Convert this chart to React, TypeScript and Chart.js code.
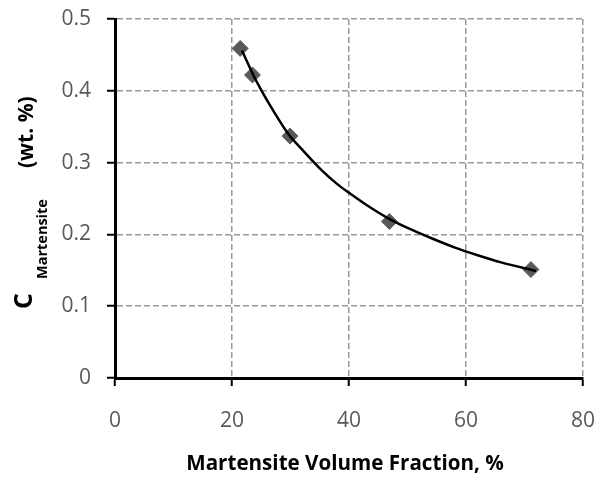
import React, { useEffect, useRef } from 'react';
import { Chart, registerables } from 'chart.js';

Chart.register(...registerables);

// Measured data (diamonds)
const measuredX = [21.4, 23.5, 29.9, 46.9, 71.1];
const measuredY = [0.459, 0.422, 0.337, 0.218, 0.151];

// Trend line
const trendX = [21.7, 23.7, 25, 27, 29.7, 32, 35, 38, 40, 43, 46.8, 50, 54, 58, 62, 66, 72];
const trendY = [0.456, 0.421, 0.401, 0.373, 0.339, 0.318, 0.292, 0.27, 0.258, 0.241, 0.222, 0.209, 0.195, 0.182, 0.171, 0.161, 0.149];

const xTicks = [0, 20, 40, 60, 80];
const yTicks = [0, 0.1, 0.2, 0.3, 0.4, 0.5];
const yTickLabels = ['0', '0.1', '0.2', '0.3', '0.4', '0.5'];

const xTitle = 'Martensite Volume Fraction, %';
const yTitleMain = 'C';
const yTitleSub = 'Martensite';
const yTitleUnit = '(wt. %)';

const FONT = "'Open Sans', 'Noto Sans', sans-serif";

const titlesPlugin = {
  id: 'titles',
  afterDraw(chart: any) {
    const { ctx, chartArea } = chart;
    ctx.save();
    ctx.fillStyle = '#000';
    // X title
    ctx.font = `bold 20.6px ${FONT}`;
    ctx.textAlign = 'center';
    ctx.textBaseline = 'middle';
    ctx.fillText(xTitle, (chartArea.left + chartArea.right) / 2 - 4, 464);

    // Y title, rotated
    ctx.rotate(-Math.PI / 2);
    ctx.textAlign = 'left';
    ctx.textBaseline = 'alphabetic';
    ctx.font = `bold 25px ${FONT}`;
    ctx.fillText(yTitleMain, -309, 32);
    ctx.font = `bold 14.5px ${FONT}`;
    ctx.fillText(yTitleSub, -279, 47);
    ctx.font = `bold 21px ${FONT}`;
    ctx.fillText(yTitleUnit, -168, 33);
    ctx.restore();
  },
};

export default function App() {
  const canvasRef = useRef<HTMLCanvasElement | null>(null);

  useEffect(() => {
    document.body.style.margin = '0';
    const canvas = canvasRef.current;
    if (!canvas) return;
    const chart = new Chart(canvas, {
      type: 'scatter',
      data: {
        datasets: [
          {
            label: 'trend',
            data: trendX.map((x, i) => ({ x, y: trendY[i] })),
            showLine: true,
            borderColor: '#000',
            borderWidth: 2.5,
            pointRadius: 0,
            cubicInterpolationMode: 'monotone',
          } as any,
          {
            label: 'measured',
            data: measuredX.map((x, i) => ({ x, y: measuredY[i] })),
            pointStyle: 'rectRot',
            pointRadius: 8,
            backgroundColor: '#595959',
            borderColor: '#606060',
            borderWidth: 1,
            showLine: false,
          },
        ],
      },
      options: {
        responsive: false,
        animation: false,
        layout: { padding: { left: 0, right: 17, top: 19, bottom: 0 } },
        plugins: {
          legend: { display: false },
          tooltip: { enabled: false },
        },
        scales: {
          x: {
            type: 'linear',
            min: 0,
            max: 80,
            afterBuildTicks: (s: any) => {
              s.ticks = xTicks.map((v) => ({ value: v }));
            },
            afterFit: (s: any) => {
              s.height = 99;
              s.paddingLeft = 0;
              s.paddingRight = 0;
            },
            ticks: {
              font: { family: FONT, size: 21 },
              color: '#595959',
              padding: 22,
              maxRotation: 0,
              callback: (v: any) => String(v),
            },
            grid: {
              color: '#9a9a9a',
              lineWidth: 1.5,
              tickColor: '#000',
              tickWidth: 2,
              tickLength: 8,
              tickBorderDash: [],
            },
            border: { display: true, color: '#000', width: 3, dash: [6, 3] },
          },
          y: {
            type: 'linear',
            min: 0,
            max: 0.5,
            afterBuildTicks: (s: any) => {
              s.ticks = yTicks.map((v) => ({ value: v }));
            },
            afterFit: (s: any) => {
              s.width = 115;
              s.paddingTop = 0;
              s.paddingBottom = 0;
            },
            ticks: {
              font: { family: FONT, size: 21 },
              color: '#595959',
              padding: 16,
              callback: (v: any) => {
                const i = yTicks.findIndex((t) => Math.abs(t - v) < 1e-9);
                return i >= 0 ? yTickLabels[i] : '';
              },
            },
            grid: {
              color: '#9a9a9a',
              lineWidth: 1.5,
              tickColor: '#000',
              tickWidth: 2,
              tickLength: 8,
              tickBorderDash: [],
            },
            border: { display: true, color: '#000', width: 3, dash: [6, 3] },
          },
        },
      },
      plugins: [titlesPlugin],
    });
    return () => chart.destroy();
  }, []);

  return (
    <div style={{ width: 600, height: 477, background: '#fff' }}>
      <canvas ref={canvasRef} width={600} height={477} />
    </div>
  );
}
